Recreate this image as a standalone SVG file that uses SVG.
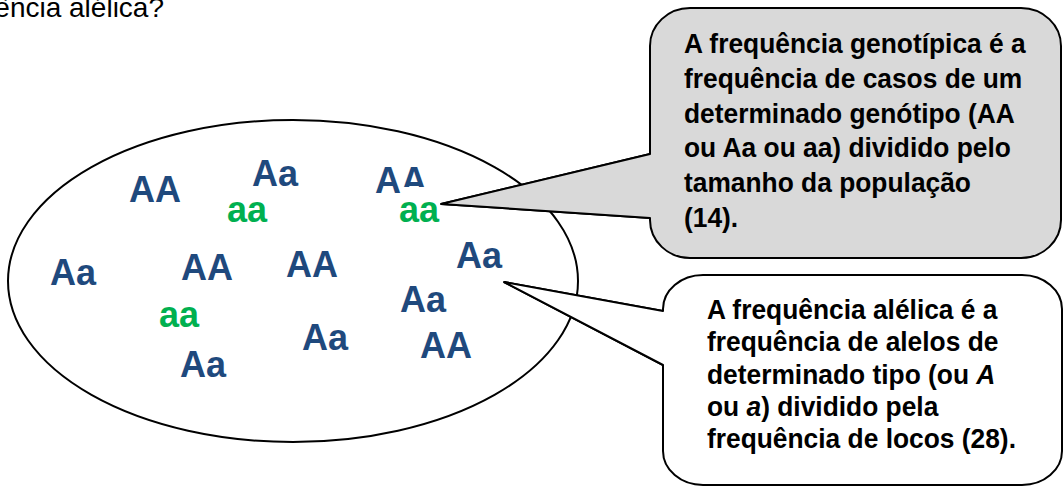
<svg xmlns="http://www.w3.org/2000/svg" width="1063" height="486" viewBox="0 0 1063 486">
  <style>
    .heading { font-family: "Liberation Sans", Arial, sans-serif; font-size: 28px; fill: #000; }
    .geno { font-family: "Liberation Sans", Arial, sans-serif; font-weight: bold; font-size: 36px; }
    .dom { fill: #1F497D; }
    .rec { fill: #00B050; }
    .callout-text { font-family: "Liberation Sans", Arial, sans-serif; font-weight: bold; font-size: 28.5px; fill: #000; }
    .outline { stroke: #000; stroke-width: 2; }
  </style>
  <rect width="1063" height="486" fill="#fff"/>

  <!-- question heading, cut off by the top edge -->
  <text class="heading" x="164" y="17" text-anchor="end">ência alélica?</text>

  <!-- population -->
  <g id="population">
    <ellipse cx="293" cy="281" rx="285" ry="161" fill="#fff" class="outline"/>
    <text class="geno dom" x="129" y="202">AA</text>
    <text class="geno dom" x="252" y="186">Aa</text>
    <text class="geno rec" x="227" y="222">aa</text>
    <text class="geno dom" x="375" y="193">AA</text>
    <rect x="401" y="187" width="40" height="40" fill="#fff"/>
    <text class="geno rec" x="399" y="222">aa</text>
    <text class="geno dom" x="50" y="285">Aa</text>
    <text class="geno dom" x="181" y="280">AA</text>
    <text class="geno dom" x="286" y="277">AA</text>
    <text class="geno dom" x="456" y="268">Aa</text>
    <text class="geno rec" x="159" y="327">aa</text>
    <text class="geno dom" x="400" y="312">Aa</text>
    <text class="geno dom" x="302" y="350">Aa</text>
    <text class="geno dom" x="420" y="358">AA</text>
    <text class="geno dom" x="180" y="377">Aa</text>
  </g>

  <!-- callout bubbles with their pointers -->
  <g id="connectors">
    <path id="pointer-genotypic" d="M 650,154 L 441,204 L 650,218" fill="none" class="outline"/>
    <path id="pointer-allelic" d="M 663,311 L 504,282 L 663,365" fill="none" class="outline"/>
  </g>

  <g id="genotypic-callout">
    <path class="outline" fill="#D9D9D9" stroke-linejoin="round"
          d="M 690,8 H 1021 A 40 38 0 0 1 1061,46 V 220 A 40 38 0 0 1 1021,258 H 690 A 40 38 0 0 1 650,220 V 218 L 441,204 L 650,154 V 46 A 40 38 0 0 1 690,8 Z"/>
    <text class="callout-text" transform="translate(684,0) scale(0.925,1)">
      <tspan x="0" y="53">A frequência genotípica é a</tspan>
      <tspan x="0" y="88">frequência de casos de um</tspan>
      <tspan x="0" y="123">determinado genótipo (AA</tspan>
      <tspan x="0" y="157">ou Aa ou aa) dividido pelo</tspan>
      <tspan x="0" y="192">tamanho da população</tspan>
      <tspan x="0" y="227">(14).</tspan>
    </text>
  </g>

  <g id="allelic-callout">
    <path class="outline" fill="#fff" stroke-linejoin="round"
          d="M 703,275 H 1022 A 40 34 0 0 1 1062,309 V 451 A 40 34 0 0 1 1022,485 H 703 A 40 34 0 0 1 663,451 V 365 L 504,282 L 663,311 V 309 A 40 34 0 0 1 703,275 Z"/>
    <text class="callout-text" transform="translate(707,0) scale(0.925,1)">
      <tspan x="0" y="319">A frequência alélica é a</tspan>
      <tspan x="0" y="351">frequência de alelos de</tspan>
      <tspan x="0" y="384">determinado tipo (ou <tspan font-style="italic">A</tspan></tspan>
      <tspan x="0" y="416">ou <tspan font-style="italic">a</tspan>) dividido pela</tspan>
      <tspan x="0" y="448">frequência de locos (28).</tspan>
    </text>
  </g>
</svg>
